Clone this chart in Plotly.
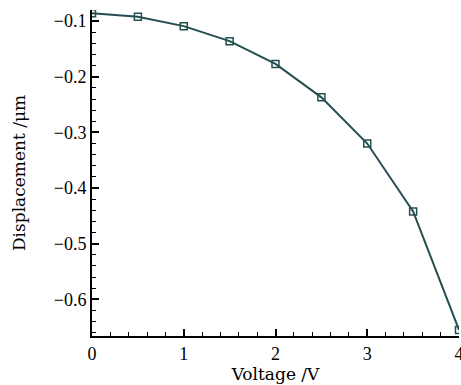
import plotly.graph_objects as go

voltage = [0, 0.5, 1.0, 1.5, 2.0, 2.5, 3.0, 3.5, 4.0]
displacement = [-0.086, -0.092, -0.109, -0.136, -0.177, -0.237, -0.320, -0.442, -0.655]

x_ticks = [0, 1, 2, 3, 4]
y_ticks = [-0.1, -0.2, -0.3, -0.4, -0.5, -0.6]

fig = go.Figure()
fig.add_trace(go.Scatter(
    x=voltage, y=displacement, mode="lines+markers",
    line=dict(color="#244f50", width=2),
    marker=dict(symbol="square-open", size=7, color="#244f50", line=dict(width=1.5)),
))

tick_fam = "Liberation Serif, serif"
title_fam = "DejaVu Serif, serif"
fig.update_layout(
    width=461, height=385,
    margin=dict(l=92, r=2, t=10, b=49),
    plot_bgcolor="white", paper_bgcolor="white",
    showlegend=False,
    font=dict(family=tick_fam, size=18, color="black"),
)
fig.update_xaxes(
    range=[0, 4], tickvals=x_ticks, ticktext=[str(v) for v in x_ticks],
    automargin=False, ticklabeloverflow="allow",
    showgrid=False, zeroline=False, showline=True, linecolor="black", linewidth=2,
    ticks="inside", ticklen=7, tickwidth=2, tickcolor="black",
    minor=dict(dtick=0.2, tick0=0, ticks="inside", ticklen=4, tickwidth=1, tickcolor="black", showgrid=False),
    title=dict(text="Voltage /V", font=dict(family=title_fam, size=17), standoff=2),
    tickfont=dict(size=18),
)
fig.update_yaxes(
    range=[-0.666, -0.08], tickvals=y_ticks, ticktext=["\u2212" + f"{abs(v):.1f}" for v in y_ticks],
    automargin=False, ticklabeloverflow="allow",
    showgrid=False, zeroline=False, showline=True, linecolor="black", linewidth=2,
    ticks="inside", ticklen=7, tickwidth=2, tickcolor="black",
    minor=dict(dtick=0.02, tick0=0, ticks="inside", ticklen=4, tickwidth=1, tickcolor="black", showgrid=False),
    title=dict(text="Displacement /\u03bcm", font=dict(family=title_fam, size=17), standoff=24),
    tickfont=dict(size=18),
)
fig.write_html(
    "out.html",
    config={"displayModeBar": False},
    post_script="document.body.style.margin='0';document.body.style.overflow='hidden';",
)
